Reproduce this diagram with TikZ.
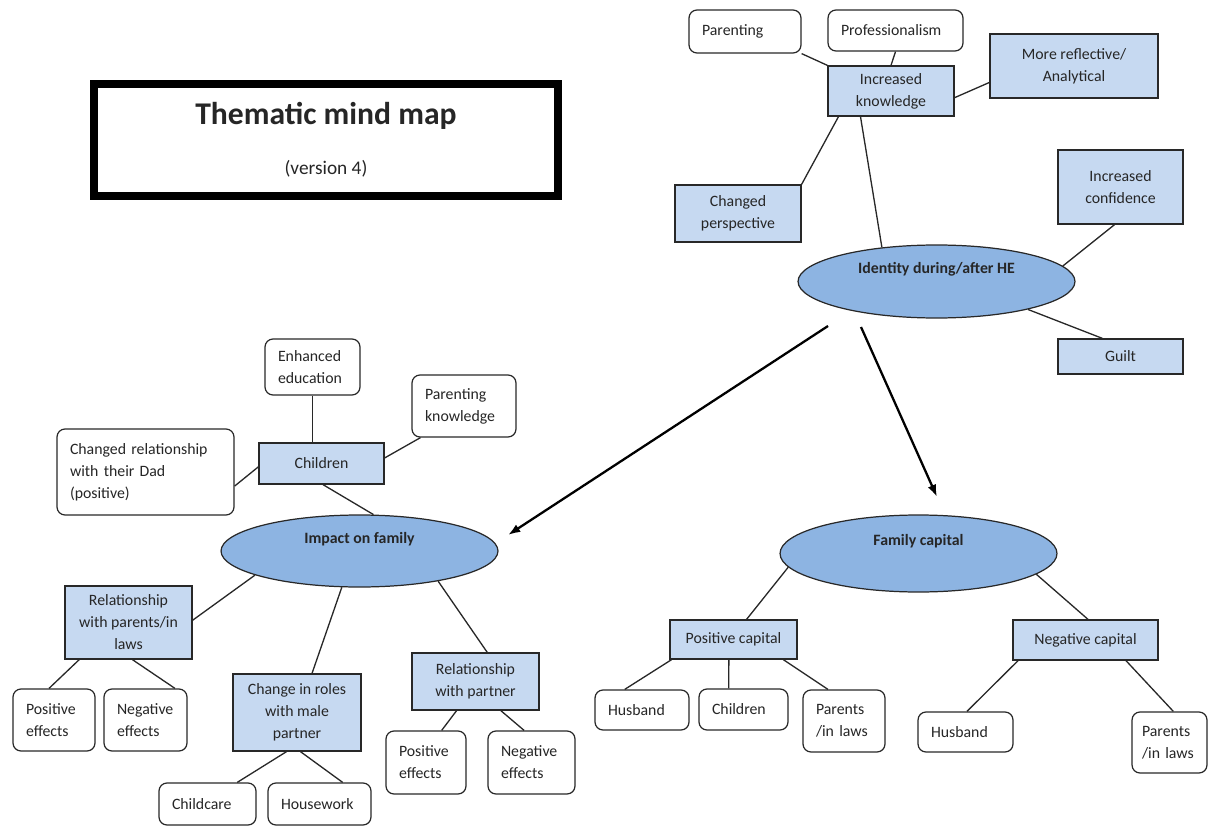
\documentclass[tikz,border=0pt]{standalone}
\usepackage{fontspec}
\setmainfont{Carlito}
\usepackage{tikz}
\usetikzlibrary{arrows.meta,shapes.geometric}
\definecolor{boxblue}{RGB}{198,217,241}
\definecolor{ovalblue}{RGB}{141,180,226}
\definecolor{edgegray}{RGB}{40,40,40}

\begin{document}
\begin{tikzpicture}[x=0.02cm,y=-0.02cm,
    every node/.style = {font=\fontsize{9}{12.5}\selectfont, text=black!85},
    theme/.style = {draw=edgegray, line width=0.7pt, fill=boxblue,
      align=center, inner sep=2pt},
    leaf/.style = {draw=edgegray, line width=0.7pt, fill=white,
      rounded corners=0.16cm, align=left, inner xsep=0.26cm, inner ysep=2pt},
    oval/.style = {ellipse, draw=edgegray, line width=0.7pt, fill=ovalblue,
      minimum width=5.54cm, inner sep=1pt, text height=6pt, text depth=15pt,
      font=\fontsize{9}{11}\selectfont\bfseries},
    link/.style = {draw=edgegray, line width=0.75pt},
    flow/.style = {draw=black, line width=1.3pt, -{Latex[length=7pt,width=5pt]}}]
  \useasboundingbox (0,0) rectangle (1219,827);

  % title
  \node[draw=black, line width=4.5pt, minimum width=9.28cm, minimum height=2.24cm,
        align=center] (title) at (326,140)
    {{\fontsize{18}{20}\selectfont\bfseries Thematic mind map}\\[16pt]
     {\fontsize{11}{13}\selectfont(version 4)}};

  % identity branch
  \node[oval, minimum height=1.46cm] (identity) at (936.5,281.5) {Identity during/after HE};
  \node[theme, minimum width=2.52cm, minimum height=1.0cm] (incKnow) at (891,91) {Increased\\knowledge};
  \node[leaf, text width=1.72cm, minimum height=0.86cm] (parenting) at (745,31.5) {Parenting};
  \node[leaf, text width=2.18cm, minimum height=0.82cm] (prof) at (895.5,30.5) {Professionalism};
  \node[theme, minimum width=3.36cm, minimum height=1.28cm] (moreRefl) at (1074,66) {More reflective/\\Analytical};
  \node[theme, minimum width=2.52cm, minimum height=1.14cm] (chPersp) at (738,213.5) {Changed\\perspective};
  \node[theme, minimum width=2.5cm, minimum height=1.48cm] (incConf) at (1120.5,187) {Increased\\confidence};
  \node[theme, minimum width=2.5cm, minimum height=0.70cm] (guilt) at (1120.5,356.5) {Guilt};

  \draw[link] (parenting.south east) -- (incKnow.north west);
  \draw[link] (prof.south) -- (incKnow.north);
  \draw[link] (moreRefl.191) -- (incKnow.-6);
  \draw[link] (chPersp.north east) -- (incKnow.206);
  \draw[link] (incKnow.220) -- (identity.148);
  \draw[link] (incConf.261) -- (identity.7.6);
  \draw[link] (guilt.135) -- (identity.-17.6);

  % impact on family branch
  \node[oval, minimum height=1.44cm] (impact) at (359.5,551) {Impact on family};
  \node[theme, minimum width=2.5cm, minimum height=0.82cm] (children) at (321.5,463.5) {Children};
  \node[leaf, text width=1.38cm, minimum height=1.12cm] (enhEdu) at (312.5,367) {Enhanced\\education};
  \node[leaf, text width=1.56cm, minimum height=1.24cm] (parKnow) at (464,406) {Parenting\\knowledge};
  \node[leaf, text width=3.02cm, minimum height=1.72cm] (changedRel) at (145.5,472)
    {Changed~relationship\\with their Dad\\(positive)};
  \node[theme, minimum width=2.54cm, minimum height=1.46cm] (relParents) at (128.5,622.5)
    {Relationship\\with parents/in\\laws};
  \node[leaf, text width=1.12cm, minimum height=1.24cm] (posEffA) at (54,720) {Positive\\effects};
  \node[leaf, text width=1.14cm, minimum height=1.24cm] (negEffA) at (145.5,720) {Negative\\effects};
  \node[theme, minimum width=2.56cm, minimum height=1.54cm] (roles) at (297,712.5)
    {Change in roles\\with male\\partner};
  \node[leaf, text width=1.42cm, minimum height=0.84cm] (childcare) at (207.5,804) {Childcare};
  \node[leaf, text width=1.54cm, minimum height=0.84cm] (housework) at (319.5,804) {Housework};
  \node[theme, minimum width=2.54cm, minimum height=1.14cm] (relPartner) at (475.5,681.5)
    {Relationship\\with partner};
  \node[leaf, text width=1.08cm, minimum height=1.26cm] (posEffB) at (426,762.5) {Positive\\effects};
  \node[leaf, text width=1.22cm, minimum height=1.26cm] (negEffB) at (531.5,762.5) {Negative\\effects};

  \draw[link] (enhEdu.south) -- (enhEdu.south |- children.north);
  \draw[link] (parKnow.216) -- (children.5);
  \draw[link] (changedRel.-9.6) -- (children.183);
  \draw[link] (children.-86) -- (impact.69.4);
  \draw[link] (impact.193.3) -- (relParents.2);
  \draw[link] (relParents.217) -- (posEffA.99);
  \draw[link] (relParents.-84.5) -- (negEffA.47);
  \draw[link] (impact.-116) -- (roles.69);
  \draw[link] (roles.255) -- (childcare.36);
  \draw[link] (roles.-85.5) -- (housework.43);
  \draw[link] (impact.-21) -- (relPartner.68);
  \draw[link] (relPartner.237) -- (posEffB.64.5);
  \draw[link] (relPartner.-49.3) -- (negEffB.103);

  % family capital branch
  \node[oval, minimum height=1.54cm] (famCap) at (918.5,553.5) {Family capital};
  \node[theme, minimum width=2.54cm, minimum height=0.78cm] (posCap) at (733.5,639.5) {Positive capital};
  \node[theme, minimum width=2.9cm, minimum height=0.80cm] (negCap) at (1085.5,640) {Negative capital};
  \node[leaf, text width=1.36cm, minimum height=0.80cm] (husbA) at (642,710) {Husband};
  \node[leaf, text width=1.26cm, minimum height=0.82cm] (childB) at (743.5,709.5) {Children};
  \node[leaf, text width=1.12cm, minimum height=1.24cm] (parentsA) at (844,721) {Parents\\/in~laws};
  \node[leaf, text width=1.38cm, minimum height=0.80cm] (husbB) at (965.5,732) {Husband};
  \node[leaf, text width=1.1cm, inner xsep=0.2cm, minimum height=1.22cm] (parentsB) at (1169.5,742.5)
    {Parents\\/in~laws};

  \draw[link] (famCap.186) -- (posCap.57);
  \draw[link] (famCap.-10) -- (negCap.83);
  \draw[link] (posCap.198) -- (husbA.130);
  \draw[link] (posCap.-103) -- (childB.125);
  \draw[link] (posCap.-22.7) -- (parentsA.117);
  \draw[link] (negCap.197.5) -- (husbB.86);
  \draw[link] (negCap.-27.5) -- (parentsB.83);

  % arrows from identity
  \coordinate (idLeft) at (828,326);
  \coordinate (idRight) at (861,327);
  \coordinate (impTip) at (508,535);
  \coordinate (famTip) at (937,497);
  \draw[flow] (idLeft) -- (impTip);
  \draw[flow] (idRight) -- (famTip);
\end{tikzpicture}
\end{document}
